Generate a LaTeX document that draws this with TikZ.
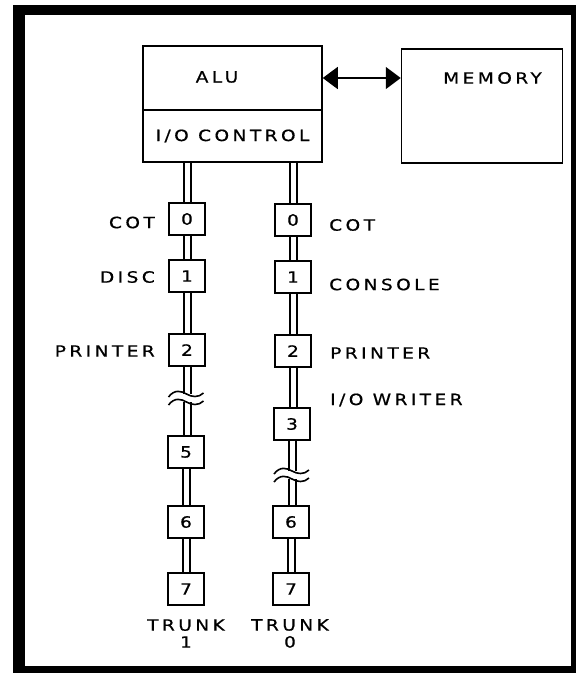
\documentclass[tikz,border=0pt]{standalone}
\usepackage{fontspec}
\setmainfont{DejaVu Sans}[FakeStretch=1.2,LetterSpace=22,FakeBold=0.6]
\newfontfamily\numfont{DejaVu Sans}[FakeStretch=1.2,FakeBold=0.6]
\usetikzlibrary{arrows.meta,positioning}

\begin{document}
\begin{tikzpicture}[x=1pt, y=-1pt,
    unit/.style={rectangle, draw=black, line width=1.5pt, minimum width=179pt, inner sep=0pt, font=\fontsize{15.5}{17}\selectfont},
    slot/.style={rectangle, draw=black, line width=1.5pt, minimum width=36pt, minimum height=32pt, inner sep=0pt, font=\numfont\fontsize{15.5}{17}\selectfont},
    device/.style={inner sep=0pt, font=\fontsize{15.5}{17}\selectfont},
    bus/.style={double, double distance=5pt, line width=2pt},
    link/.style={{Triangle[length=15pt,width=22pt]}-{Triangle[length=15pt,width=22pt]}, line width=1.5pt},
    squiggle/.style={line width=1.6pt}
]
\useasboundingbox (0,0) rectangle (576,673);

% Frame
\fill[black] (13,5) rectangle (576,673);
\fill[white] (25,15) rectangle (571,666);

% Processor
\node[unit, minimum height=64pt] (alu) at (232.5,78) {};
\node[device] (alutext) at (217,77) {ALU};
\node[unit, minimum height=52pt] (ioc) at (232.5,136) {I/O CONTROL};

% Memory
\node[unit, minimum width=161pt, minimum height=114pt] (mem) at (482,106) {};
\node[device] (memtext) at (492.5,78) {MEMORY};

\draw[link] (alu.east) -- (alu.east -| mem.west);

% Trunk 1
\node[slot] (l0) at (187,219) {0};
\node[slot] (l1) at (187,276) {1};
\node[slot] (l2) at (187,350) {2};
\node[slot] (l5) at (186,452) {5};
\node[slot] (l6) at (186,522) {6};
\node[slot] (l7) at (186,589) {7};

\node[device, anchor=east] (lcot) at (155,222.5) {COT};
\node[device, anchor=east] (ldisc) at (155,277) {DISC};
\node[device, anchor=east] (lprn) at (155,351) {PRINTER};
\node[device, align=center] (trunk1) at (186,633.5) {TRUNK\\1};

% Trunk 0
\node[slot] (r0) at (293,220) {0};
\node[slot] (r1) at (293,277) {1};
\node[slot] (r2) at (293,351) {2};
\node[slot] (r3) at (292,424) {3};
\node[slot] (r6) at (291,522) {6};
\node[slot] (r7) at (291,589) {7};

\node[device, anchor=west] (rcot) at (329,225) {COT};
\node[device, anchor=west] (rcon) at (329,284.5) {CONSOLE};
\node[device, anchor=west] (rprn) at (330,353) {PRINTER};
\node[device, anchor=west] (rwrt) at (330,400) {I/O WRITER};
\node[device, align=center] (trunk0) at (290,633.5) {TRUNK\\0};

% Buses
\draw[bus] (l0.north |- ioc.south) -- (l0.north);
\draw[bus] (l0.south) -- (l1.north);
\draw[bus] (l1.south) -- (l2.north);
\draw[bus] (l2.south) -- (l5.north -| l2.south);
\draw[bus] (l5.south) -- (l6.north);
\draw[bus] (l6.south) -- (l7.north);

\draw[bus] (r0.north |- ioc.south) -- (r0.north);
\draw[bus] (r0.south) -- (r1.north);
\draw[bus] (r1.south) -- (r2.north);
\draw[bus] (r2.south) -- (r3.north -| r2.south);
\draw[bus] (r3.south) -- (r6.north -| r3.south);
\draw[bus] (r6.south) -- (r7.north);

% Breaks
\coordinate (lcut) at (186.5,398);
\coordinate (rcut) at (292,475);
\foreach \c in {lcut,rcut} {
  \begin{scope}[shift={(\c)}]
    \fill[white] (-9,-4) rectangle (9,4);
    \draw[squiggle] (-18,-1) .. controls (-12,-9) and (-5,-7) .. (0,-4) .. controls (5,-1) and (12,0) .. (17,-5);
    \draw[squiggle] (-18,7) .. controls (-12,-1) and (-5,1) .. (0,4) .. controls (5,7) and (12,8) .. (17,3);
  \end{scope}
}
\end{tikzpicture}
\end{document}
